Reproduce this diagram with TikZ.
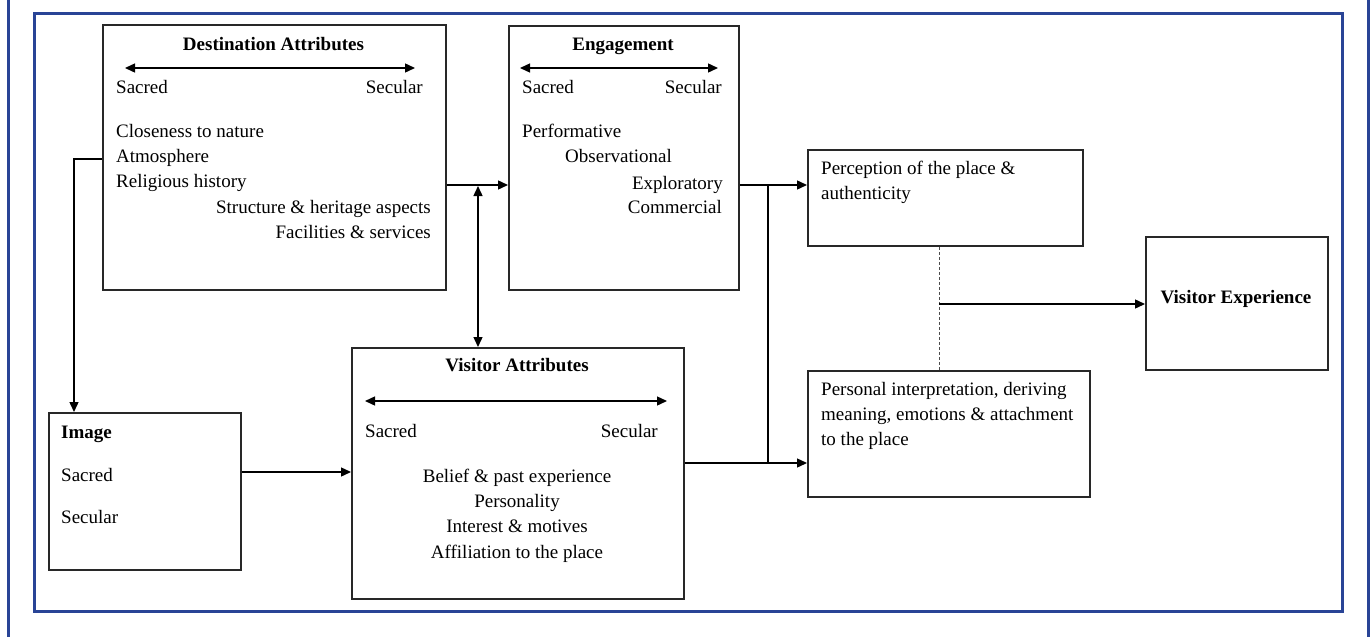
\documentclass[tikz,border=0pt]{standalone}
\usepackage{fontspec}
\setmainfont{Liberation Serif}
\usetikzlibrary{arrows.meta,calc}
\definecolor{frameblue}{RGB}{41,68,150}
\definecolor{boxgray}{RGB}{40,40,40}
\begin{document}
\begin{tikzpicture}[x=1pt,y=-1pt,
  font=\fontsize{19}{25}\selectfont,
  box/.style={draw=boxgray,line width=1.8pt,inner sep=0pt,anchor=north west},
  lbl/.style={inner sep=0pt,anchor=base west},
  lblr/.style={inner sep=0pt,anchor=base east},
  lblc/.style={inner sep=0pt,anchor=base},
  conn/.style={line width=1.4pt,-{Triangle[length=10pt,width=9pt]}},
  plain/.style={line width=1.4pt},
  twoway/.style={line width=1.4pt,{Triangle[length=10pt,width=9pt]}-{Triangle[length=10pt,width=9pt]}},
  dashline/.style={line width=0.8pt,draw=black!70,dash pattern=on 3pt off 2pt},
  frame/.style={draw=frameblue,line width=3pt}
]
\useasboundingbox (0,0) rectangle (1371,637);

% blue frames
\draw[frame] (34,13) rectangle (1342,611);
\draw[frame] (8,0) -- (8,637);
\draw[frame] (1368,0) -- (1368,637);

% boxes
\node[box,minimum width=343pt,minimum height=265pt] (dest) at (102,24) {};
\node[box,minimum width=230pt,minimum height=264pt] (eng) at (508,25) {};
\node[box,minimum width=275pt,minimum height=96pt] (perc) at (807,149) {};
\node[box,minimum width=282pt,minimum height=126pt] (pers) at (807,370) {};
\node[box,minimum width=182pt,minimum height=133pt] (vexp) at (1145,236) {};
\node[box,minimum width=192pt,minimum height=157pt] (img) at (48,412) {};
\node[box,minimum width=332pt,minimum height=251pt] (va) at (351,347) {};

% Destination Attributes
\node[lblc] (dt) at (273.5,50) {\textbf{Destination Attributes}};
\coordinate (da1) at (125,68); \coordinate (da2) at (415,68);
\draw[twoway] (da1) -- (da2);
\node[lbl] (dsac) at (116,93) {Sacred};
\node[lblr] (dsec) at (423,93) {Secular};
\node[lbl] (d1) at (116,137) {Closeness to nature};
\node[lbl] (d2) at (116,162) {Atmosphere};
\node[lbl] (d3) at (116,187) {Religious history};
\node[lblr] (d4) at (431,213) {Structure \& heritage aspects};
\node[lblr] (d5) at (431,238) {Facilities \& services};

% Engagement
\node[lblc] (et) at (623,50) {\textbf{Engagement}};
\coordinate (ea1) at (520,68); \coordinate (ea2) at (718,68);
\draw[twoway] (ea1) -- (ea2);
\node[lbl] (esac) at (522,93) {Sacred};
\node[lblr] (esec) at (722,93) {Secular};
\node[lbl] (e1) at (522,137) {Performative};
\node[lbl] (e2) at (565,162) {Observational};
\node[lblr] (e3) at (723,189) {Exploratory};
\node[lblr] (e4) at (722,213) {Commercial};

% Perception
\node[lbl] (p1) at (821,174) {Perception of the place \&};
\node[lbl] (p2) at (821,199) {authenticity};

% Personal interpretation
\node[lbl] (q1) at (821,395) {Personal interpretation, deriving};
\node[lbl] (q2) at (821,420) {meaning, emotions \& attachment};
\node[lbl] (q3) at (821,445) {to the place};

% Visitor Experience
\node[lblc] (vx) at (1236,303) {\textbf{Visitor Experience}};

% Image
\node[lbl] (it) at (61,438) {\textbf{Image}};
\node[lbl] (isac) at (61,481) {Sacred};
\node[lbl] (isec) at (61,523) {Secular};

% Visitor Attributes
\node[lblc] (vt) at (517,371) {\textbf{Visitor Attributes}};
\coordinate (va1) at (365,401); \coordinate (va2) at (667,401);
\draw[twoway] (va1) -- (va2);
\node[lbl] (vsac) at (365,437) {Sacred};
\node[lblr] (vsec) at (658,437) {Secular};
\node[lblc] (v1) at (517,482) {Belief \& past experience};
\node[lblc] (v2) at (517,507) {Personality};
\node[lblc] (v3) at (517,532) {Interest \& motives};
\node[lblc] (v4) at (517,558) {Affiliation to the place};

% connectors
\coordinate (r1) at (0,185);
\coordinate (r2) at (0,463);
\coordinate (r3) at (0,472);
\coordinate (r4) at (0,159);
\coordinate (j1) at (478,185);
\coordinate (j2) at (768,185);
\coordinate (j3) at (939,304);
\coordinate (k1) at (74,0);

\draw[conn] (dest.west |- r4) -| (img.north -| k1);
\draw[conn] (dest.east |- r1) -- (eng.west |- r1);
\draw[twoway] ($(j1)+(0,1)$) -- (j1 |- va.north);
\draw[conn] (eng.east |- r1) -- (perc.west |- r1);
\draw[plain] (j2) -- (j2 |- r2);
\draw[conn] (va.east |- r2) -- (pers.west |- r2);
\draw[conn] (img.east |- r3) -- (va.west |- r3);
\draw[dashline] (j3 |- perc.south) -- (j3 |- pers.north);
\draw[conn] (j3) -- (vexp.west |- j3);
\end{tikzpicture}
\end{document}
